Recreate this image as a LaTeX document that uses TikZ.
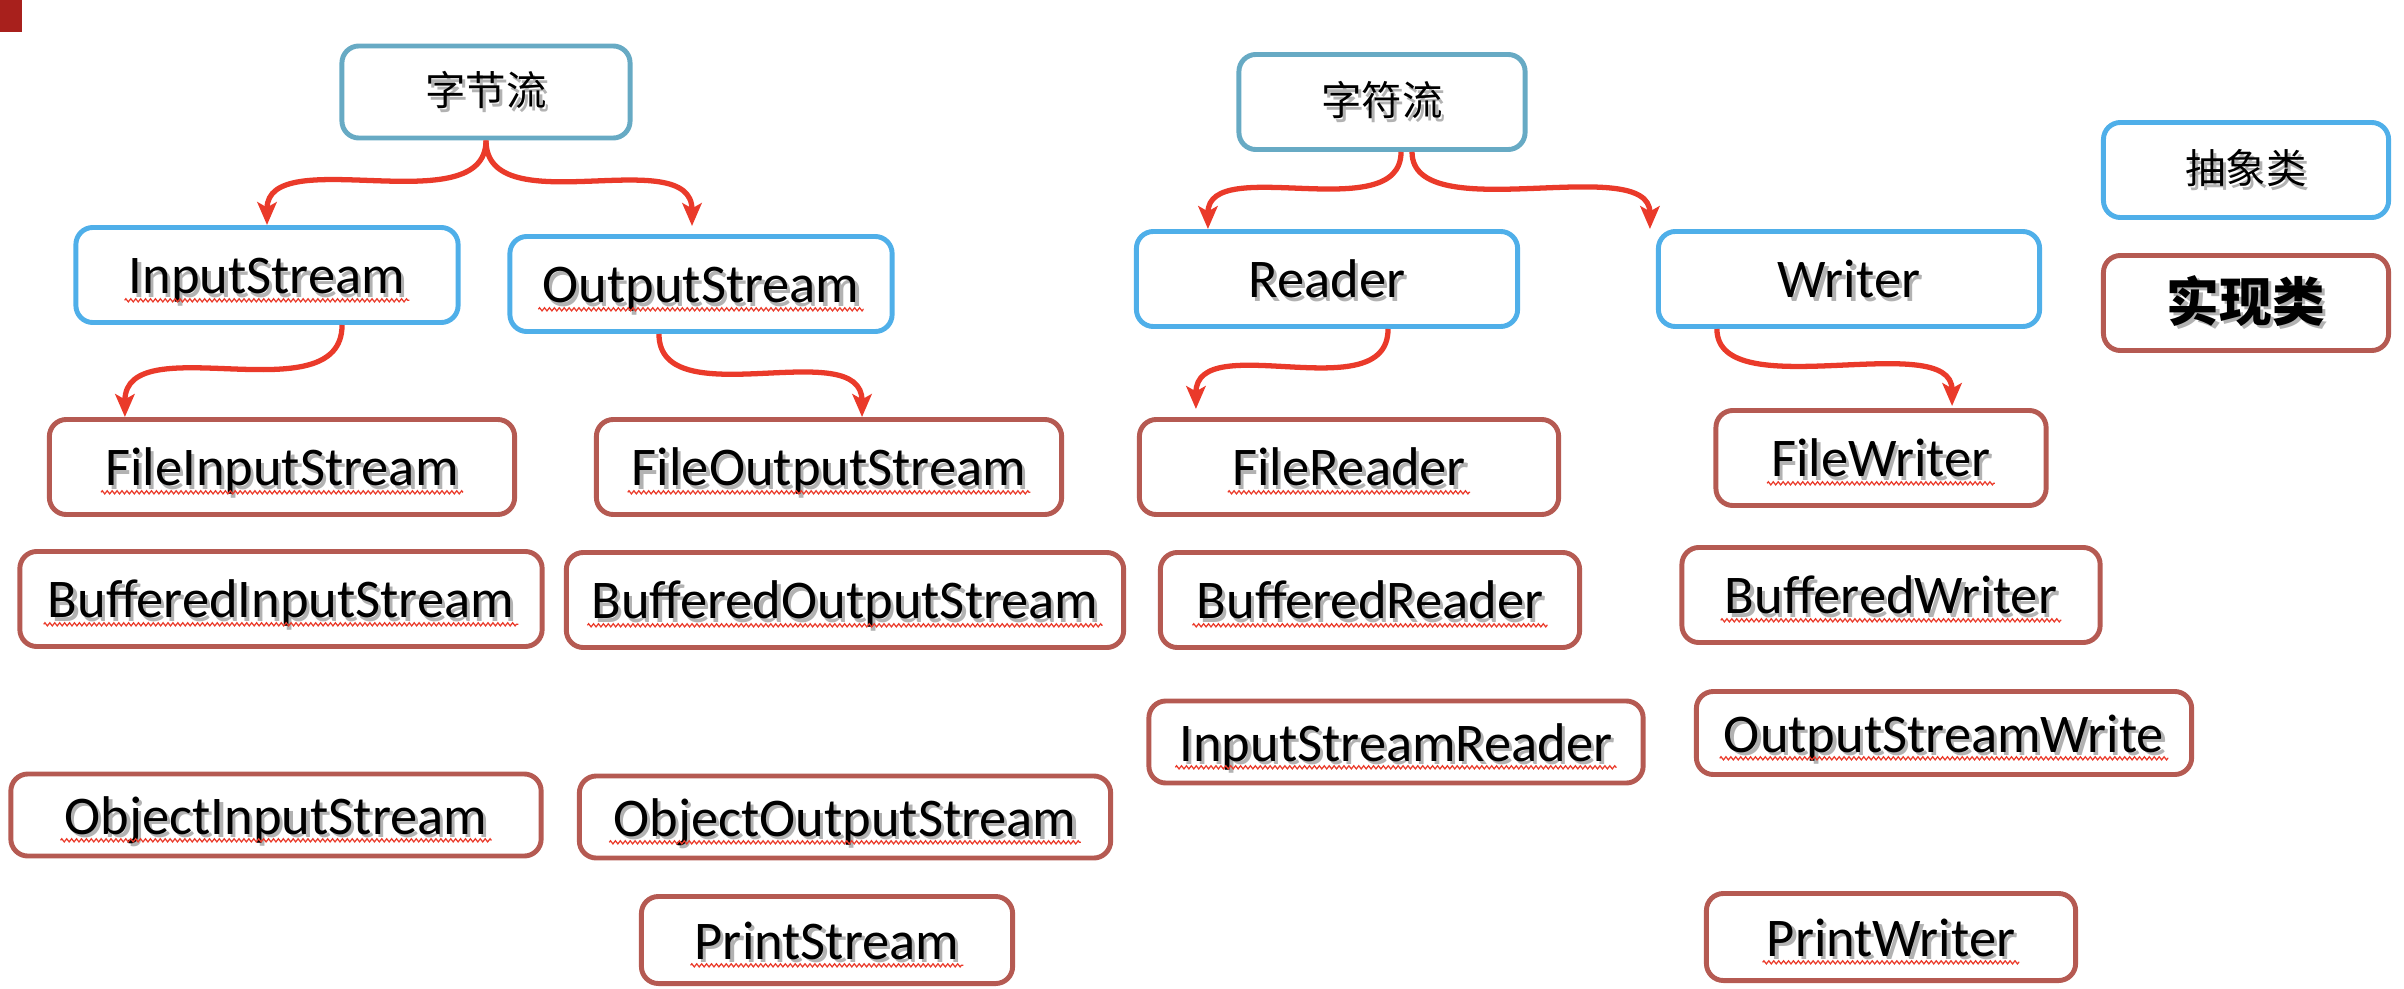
\documentclass[tikz,border=0pt]{standalone}
\usepackage{fontspec}
\setmainfont{Carlito}
\newfontfamily\cjk{Noto Sans CJK SC}
\usetikzlibrary{arrows.meta,decorations.pathmorphing}

\definecolor{topteal}{RGB}{103,170,196}
\definecolor{absblue}{RGB}{79,175,233}
\definecolor{implred}{RGB}{181,90,82}
\definecolor{linkred}{RGB}{234,58,42}
\definecolor{markred}{RGB}{168,32,28}

\newcommand{\shd}[1]{\rlap{\kern0.9pt\raisebox{-0.9pt}{\textcolor{black!30}{#1}}}#1}
\newcommand{\spl}[1]{\tikz[baseline=(w.base)]{\node[inner sep=0pt,minimum size=0pt] (w) {\shd{#1}};
  \draw[spellwave] ([xshift=-1pt,yshift=-1.8pt]w.base west) -- ([xshift=1pt,yshift=-1.8pt]w.base east);}}

\tikzset{
  box/.style={draw, line width=1.4pt, rounded corners=0.17cm, inner sep=0pt, minimum height=0.95cm},
  cjkbox/.style={box, font=\cjk\fontsize{11.5}{14}\selectfont},
  latin/.style={font=\fontsize{15.5}{18}\selectfont, text height=11pt, text depth=0.2pt},
  absbox/.style={box, latin, draw=absblue},
  impbox/.style={box, latin, draw=implred},
  link/.style={draw=linkred, line width=1.5pt, -{Stealth[length=6.5pt,width=5.5pt,inset=1.5pt]}},
  spellwave/.style={overlay, draw=linkred, line width=0.35pt, sharp corners, decorate,
    decoration={zigzag, segment length=1.4pt, amplitude=0.45pt}}
}

\begin{document}
\begin{tikzpicture}[x=0.01cm, y=-0.01cm]
    \useasboundingbox (0,0) rectangle (2404,988);
    \fill[markred] (0,0) rectangle (22,32);

    \node[cjkbox, draw=topteal, minimum width=2.88cm, minimum height=0.92cm] (zjl) at (486,92) {\shd{字节流}};
    \node[cjkbox, draw=topteal, minimum width=2.86cm] (zfl) at (1382,102) {\shd{字符流}};
    \node[cjkbox, draw=absblue, minimum width=2.85cm] (abs) at (2246,170) {\shd{抽象类}};
    \node[box, draw=implred, minimum width=2.85cm, font=\cjk\bfseries\fontsize{15}{18}\selectfont] (imp) at (2246,303) {\shd{实现类}};

    \node[absbox, minimum width=3.82cm] (ins) at (267,275) {\spl{InputStream}};
    \node[absbox, minimum width=3.82cm] (outs) at (701,284) {\spl{OutputStream}};
    \node[absbox, minimum width=3.81cm] (rd) at (1327,279) {\shd{Reader}};
    \node[absbox, minimum width=3.81cm] (wr) at (1849,279) {\shd{Writer}};

    \node[impbox, minimum width=4.65cm] (fis) at (282,467) {\spl{FileInputStream}};
    \node[impbox, minimum width=5.22cm] (bis) at (281,599) {\spl{BufferedInputStream}};
    \node[impbox, minimum width=5.30cm, minimum height=0.82cm] (ois) at (276,815) {\spl{ObjectInputStream}};
    \node[impbox, minimum width=4.65cm] (fos) at (829,467) {\spl{FileOutputStream}};
    \node[impbox, minimum width=5.57cm] (bos) at (845,600) {\spl{BufferedOutputStream}};
    \node[impbox, minimum width=5.31cm, minimum height=0.82cm] (oos) at (845,817) {\spl{ObjectOutputStream}};
    \node[impbox, minimum width=3.71cm, minimum height=0.87cm] (ps) at (827,940) {\spl{PrintStream}};

    \node[impbox, minimum width=4.19cm] (frd) at (1349,467) {\spl{FileReader}};
    \node[impbox, minimum width=4.19cm] (brd) at (1370,600) {\spl{BufferedReader}};
    \node[impbox, minimum width=4.94cm, minimum height=0.82cm] (isr) at (1396,742) {\spl{InputStreamReader}};
    \node[impbox, minimum width=3.30cm] (fwr) at (1881,458) {\spl{FileWriter}};
    \node[impbox, minimum width=4.18cm] (bwr) at (1891,595) {\spl{BufferedWriter}};
    \node[impbox, minimum width=4.95cm, minimum height=0.83cm] (osw) at (1944,733) {\spl{OutputStreamWrite}};
    \node[impbox, minimum width=3.69cm, minimum height=0.87cm] (pwr) at (1891,937) {\spl{PrintWriter}};

    \draw[link] (zjl.south) .. controls +(0,84) and +(0,-84) .. (ins.north);
    \draw[link] (zjl.south) .. controls +(0,85) and +(0,-85) .. ([xshift=-0.09cm,yshift=0.08cm]outs.north);
    \draw[link] ([xshift=0.75cm]ins.south) .. controls +(0,92) and +(0,-92) .. ([xshift=-1.57cm]fis.north);
    \draw[link] ([xshift=-0.42cm]outs.south) .. controls +(0,84) and +(0,-84) .. ([xshift=0.33cm]fos.north);
    \draw[link] ([xshift=0.19cm]zfl.south) .. controls +(0,76) and +(0,-76) .. ([xshift=-1.19cm]rd.north);
    \draw[link] ([xshift=0.30cm]zfl.south) .. controls +(0,78) and +(0,-78) .. ([xshift=-0.06cm]wr.north west);
    \draw[link] ([xshift=0.61cm]rd.south) .. controls +(0,82) and +(0,-82) .. ([xshift=-1.53cm,yshift=0.08cm]frd.north);
    \draw[link] ([xshift=-1.32cm]wr.south) .. controls +(0,79) and +(0,-79) .. ([xshift=0.71cm,yshift=0.02cm]fwr.north);
\end{tikzpicture}
\end{document}
